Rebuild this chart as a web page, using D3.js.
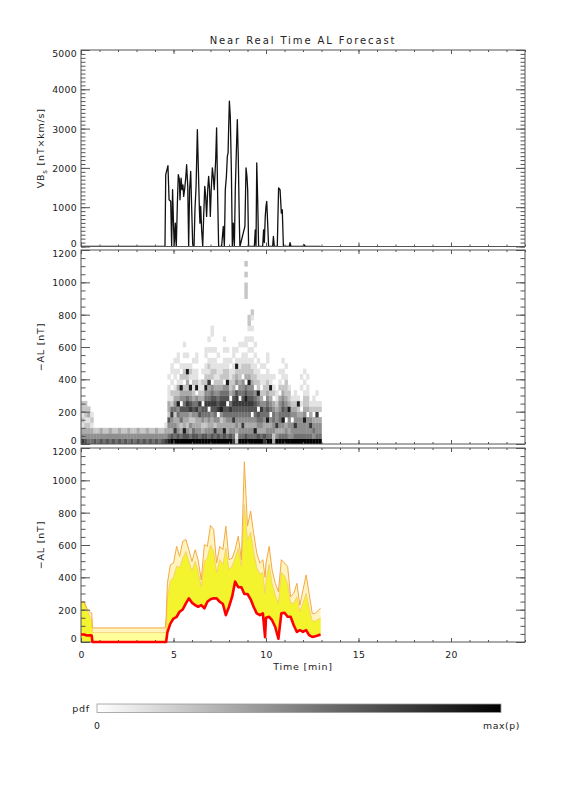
<!DOCTYPE html>
<html><head><meta charset="utf-8">
<script src="https://cdn.jsdelivr.net/npm/d3@7"></script>
<style>body{margin:0;background:#fff}</style>
</head><body><svg id="c" width="576" height="792" xmlns="http://www.w3.org/2000/svg"></svg>
<script>
// ---------------- DATA ----------------
const title = "Near Real Time AL Forecast";
const xTicks = [0, 5, 10, 15, 20];
const xMinor = [0,1,2,3,4,5,6,7,8,9,10,11,12,13,14,15,16,17,18,19,20,21,22,23,24];
const vbsTicks = [0, 1000, 2000, 3000, 4000, 5000];
const alTicks = [0, 200, 400, 600, 800, 1000, 1200];

// Panel 1: VBs [nT x km/s] vs time [min]
const vbsTime = [0,4.54,4.58,4.67,4.70,4.76,4.85,4.90,4.95,5.01,5.04,5.10,5.15,5.21,5.26,5.32,5.35,5.41,5.46,5.51,5.55,5.60,5.66,5.71,5.77,5.82,5.87,5.93,5.98,6.04,6.11,6.16,6.22,6.29,6.34,6.40,6.43,6.47,6.52,6.58,6.63,6.69,6.74,6.79,6.85,6.90,6.95,6.99,7.04,7.10,7.15,7.20,7.28,7.33,7.39,7.44,7.60,7.69,7.75,7.80,7.86,7.91,7.95,7.98,8.02,8.07,8.13,8.18,8.23,8.29,8.34,8.40,8.45,8.50,8.56,8.59,8.86,8.92,8.97,9.01,9.06,9.37,9.42,9.46,9.50,9.55,9.60,9.82,9.87,9.91,9.96,10.00,10.04,10.09,10.14,10.36,10.40,10.45,10.61,10.68,10.76,10.83,10.88,10.94,11.26,11.30,11.35,12.00,12.05,12.13,12.95];
const vbsVal  = [0,0,1830,2000,2060,1190,1150,0,1445,425,0,595,0,1105,1830,1700,1190,1740,1445,1570,1275,1445,1740,2080,1530,0,1445,1910,1020,0,0,935,1530,2975,2040,935,595,1020,425,0,765,1530,1275,765,1445,1785,1445,765,1445,2000,1785,1445,2200,3015,1190,0,0,510,0,1445,1785,2295,2380,2975,3700,3315,1870,0,595,0,1445,2465,3230,2295,595,0,510,2000,1785,1445,0,0,425,0,2125,1190,0,0,425,100,765,1020,1150,595,0,0,255,0,0,1490,1445,850,935,0,0,100,0,0,50,0,0];

// Panel 2: pdf of -AL (column start times [min], bin 33.3 nT, intensity 0..9 from bottom row up)
const hmBin = 33.3;
const hmEnd = 13.0;
const hmTime = [0,0.17,0.33,0.5,0.67,0.83,1,1.17,1.33,1.5,1.67,1.83,2,2.17,2.33,2.5,2.67,2.83,3,3.17,3.33,3.5,3.67,3.83,4,4.17,4.33,4.5,4.67,4.83,5,5.17,5.33,5.5,5.67,5.83,6,6.17,6.33,6.5,6.67,6.83,7,7.17,7.33,7.5,7.67,7.83,8,8.17,8.33,8.5,8.67,8.83,9,9.17,9.33,9.5,9.67,9.83,10,10.17,10.33,10.5,10.67,10.83,11,11.17,11.33,11.5,11.67,11.83,12,12.17,12.33,12.5,12.67,12.83];
const hmCols = [
 "74312122","64321222","5432132","543121",
 "642","542","643","542","642","543","642","542","643","542","642","543","642","542","643","542","642","543","642","542","643","542","642",
 "7431",
 "8534623311101","963447521201011","9574325432101101","96433548323101011","953254604381201",
 "9683346543202210101","96423467532328101","9534237643801210","9653246532121101","96433475408211011",
 "9543365732110","96324560321201","964235675482211011","95434507543721210101","9643346765402211010011",
 "957245676432121101","96434076543211101","9543248765322110","96833567654022110101","953345606548221101",
 "9643457503221101","754375676432211011","2134456776043281010","9543456705432211001","95474567654402211010",
 "9643456786503221101100000002220202","954345676548322101010122","9543406765432211010101012","9583456654022110101","9634560548221101",
 "953455743201101","763345540221101","95438565432211011","9543405432811","3244554302101",
 "9437443211","95345544302101","9534856543201101","954305543222101","943445832210",
 "944404321","9547443211","954443281","9544430100101","95448432210101",
 "9544403221101","95474321","9454302110","9544372101","95443021"
];

// Panel 3: -AL forecast quantiles [nT]
const alTime  = [0,0.17,0.33,0.5,0.58,0.62,4.55,4.6,4.67,4.83,5.0,5.17,5.33,5.5,5.67,5.83,6.0,6.17,6.33,6.5,6.67,6.83,7.0,7.17,7.33,7.5,7.67,7.83,8.0,8.17,8.33,8.5,8.67,8.83,9.0,9.17,9.33,9.5,9.67,9.83,9.95,10.0,10.17,10.33,10.5,10.67,10.83,11.0,11.17,11.33,11.5,11.67,11.83,12.0,12.17,12.33,12.5,12.67,12.83,12.95];
const alRed   = [46,46,40,42,40,0, 0,0,60,114, 145,156,187,201,239,270, 243,228,218,228,208,249, 264,270,270,249,235,166, 218,280,374,339,339,297, 297,264,218,177,166,177, 30,150,156,135,93,20, 177,181,156,156,104,62, 73,62,73,42,31,35, 42,46];
const alLo    = [0,0,0,0,0,0, 0,0,60,114, 145,156,187,201,239,270, 243,228,218,228,208,249, 264,270,270,249,235,166, 218,280,374,339,339,297, 297,264,218,177,166,177, 30,150,156,135,93,20, 177,181,156,156,104,62, 73,62,73,42,31,35, 42,46];
const alMid   = [250,245,200,150,140,0, 0,60,280,380, 400,470,460,520,560,500, 440,500,440,340,500,520, 600,560,430,510,480,580, 450,470,520,580,470,850, 630,680,560,460,420,430, 300,380,480,360,290,240, 430,410,360,240,240,280, 190,240,300,210,130,130, 140,150];
const alLight = [250,245,200,150,140,58, 58,60,280,380, 400,470,460,520,560,500, 440,500,440,340,500,520, 600,560,430,510,480,580, 450,470,520,580,470,850, 630,680,560,460,420,430, 300,380,480,360,290,240, 430,410,360,240,240,280, 190,240,300,210,130,130, 140,150];
const alHi    = [250,250,205,185,180,87, 87,150,363,478, 488,592,530,623,634,571, 498,571,509,384,602,592, 721,696,488,592,571,717, 509,519,571,654,509,1115, 717,810,675,550,488,509, 400,488,592,446,363,311, 509,488,467,280,301,363, 228,322,415,301,177,177, 197,208];

// ---------------- DRAW ----------------
const svg = d3.select("#c");
const FONT = "'DejaVu Sans', sans-serif";
const INK = "#222";
const AX = "#555";
const X0 = 81, X1 = 525;
const x = d3.scaleLinear().domain([0, 24]).range([X0, X1]);
const P = [{y0: 50, y1: 246.5}, {y0: 250, y1: 444}, {y0: 448, y1: 642}];
const yV = d3.scaleLinear().domain([0, 5000]).range([P[0].y1, P[0].y0]);
const yM = d3.scaleLinear().domain([0, 1200]).range([P[1].y1, P[1].y0]);
const yB = d3.scaleLinear().domain([0, 1200]).range([P[2].y1, P[2].y0]);

const defs = svg.append("defs");
P.forEach((p, i) => {
  defs.append("clipPath").attr("id", "clip" + i).append("rect")
    .attr("x", X0).attr("y", p.y0).attr("width", X1 - X0).attr("height", p.y1 - p.y0);
});

// title
svg.append("text").attr("x", (X0 + X1) / 2).attr("y", 44).attr("text-anchor", "middle")
  .attr("font-family", FONT).attr("font-size", 10).attr("letter-spacing", 1.9).attr("fill", INK).text(title);

// ---- panel 1 ----
const g1 = svg.append("g").attr("clip-path", "url(#clip0)");
g1.append("path").datum(vbsTime.map((t, i) => [t, vbsVal[i]]))
  .attr("d", d3.line().x(d => x(d[0])).y(d => yV(d[1])))
  .attr("fill", "none").attr("stroke", "#111").attr("stroke-width", 1.3).attr("stroke-linejoin", "round");

// ---- panel 2 ----
const gray = d3.scaleLinear().domain([0, 9]).range(["#ffffff", "#000000"]);
const g2 = svg.append("g").attr("clip-path", "url(#clip1)");
hmCols.forEach((col, i) => {
  const t0 = hmTime[i], t1 = i + 1 < hmTime.length ? hmTime[i + 1] : hmEnd;
  for (let r = 0; r < col.length; r++) {
    const v = +col[r];
    if (!v) continue;
    g2.append("rect")
      .attr("x", x(t0)).attr("width", x(t1) - x(t0) + 0.3)
      .attr("y", yM((r + 1) * hmBin)).attr("height", yM(r * hmBin) - yM((r + 1) * hmBin) + 0.3)
      .attr("fill", gray(v));
  }
});

// ---- panel 3 ----
const g3 = svg.append("g").attr("clip-path", "url(#clip2)");
const idx = alTime.map((t, i) => i);
const band = (top) => d3.area().x(i => x(alTime[i])).y0(i => yB(alLo[i])).y1(i => yB(top[i]));
g3.append("path").datum(idx).attr("d", band(alHi)).attr("fill", "#fff4bf");
g3.append("path").datum(idx).attr("d", band(alLight)).attr("fill", "#ffff9c");
g3.append("path").datum(idx).attr("d", band(alMid)).attr("fill", "#f3f32e");
const ln = (arr) => d3.line().x(i => x(alTime[i])).y(i => yB(arr[i]));
g3.append("path").datum(idx).attr("d", ln(alLight)).attr("fill", "none").attr("stroke", "#f7c874").attr("stroke-width", 0.8);
g3.append("path").datum(idx).attr("d", ln(alHi)).attr("fill", "none").attr("stroke", "#f3aa44").attr("stroke-width", 1);

// ---- axes / frames ----
function styleAxis(sel) {
  sel.select(".domain").remove();
  sel.selectAll("line").attr("stroke", AX).attr("stroke-width", 1);
  sel.selectAll("text").attr("font-family", FONT).attr("font-size", 9.3).attr("fill", INK).attr("letter-spacing", 0.3);
}
function frame(p, y, majors, step, showX) {
  const minors = d3.range(y.domain()[0], y.domain()[1] + 1e-6, step);
  const add = (axis, tx, ty) => svg.append("g").attr("transform", `translate(${tx},${ty})`).call(axis).call(styleAxis);
  add(d3.axisLeft(y).tickValues(minors).tickSize(-4.5).tickSizeOuter(0).tickFormat(""), X0, 0);
  const lab = add(d3.axisLeft(y).tickValues(majors).tickSize(-9).tickSizeOuter(0).tickPadding(4).tickFormat(d3.format("d")), X0, 0);
  const lo = d3.min(majors), hi = d3.max(majors);
  lab.selectAll(".tick text").attr("dy", d => d === lo ? "-0.05em" : d === hi ? "0.75em" : "0.38em");
  add(d3.axisRight(y).tickValues(minors).tickSize(-4.5).tickSizeOuter(0).tickFormat(""), X1, 0);
  add(d3.axisRight(y).tickValues(majors).tickSize(-9).tickSizeOuter(0).tickFormat(""), X1, 0);
  add(d3.axisTop(x).tickValues(xMinor).tickSize(-2).tickSizeOuter(0).tickFormat(""), 0, p.y0);
  add(d3.axisTop(x).tickValues(xTicks).tickSize(-4).tickSizeOuter(0).tickFormat(""), 0, p.y0);
  add(d3.axisBottom(x).tickValues(xMinor).tickSize(-2).tickSizeOuter(0).tickFormat(""), 0, p.y1);
  add(d3.axisBottom(x).tickValues(xTicks).tickSize(-4).tickSizeOuter(0).tickPadding(9)
      .tickFormat(showX ? d3.format("d") : ""), 0, p.y1);
  svg.append("rect").attr("x", X0).attr("y", p.y0).attr("width", X1 - X0).attr("height", p.y1 - p.y0)
    .attr("fill", "none").attr("stroke", AX).attr("stroke-width", 1);
}
frame(P[0], yV, vbsTicks, 100, false);
frame(P[1], yM, alTicks, 50, false);
frame(P[2], yB, alTicks, 50, true);

// red line drawn over the frame (it sits on the axis where -AL = 0)
svg.append("path").datum(idx).attr("d", ln(alRed)).attr("fill", "none").attr("stroke", "#ff0000")
  .attr("stroke-width", 2.6).attr("stroke-linejoin", "round");

// axis titles
function yTitle(p, build) {
  const t = svg.append("text").attr("transform", `translate(44,${(p.y0 + p.y1) / 2}) rotate(-90)`)
    .attr("text-anchor", "middle").attr("font-family", FONT).attr("font-size", 9.5)
    .attr("letter-spacing", 0.8).attr("fill", INK);
  build(t);
}
yTitle(P[0], t => {
  t.append("tspan").text("VB");
  t.append("tspan").attr("font-size", 7).attr("dy", 3).text("s");
  t.append("tspan").attr("dy", -3).text(" [nT×km/s]");
});
yTitle(P[1], t => t.text("−AL [nT]"));
yTitle(P[2], t => t.text("−AL [nT]"));
svg.append("text").attr("x", (X0 + X1) / 2).attr("y", 670).attr("text-anchor", "middle")
  .attr("font-family", FONT).attr("font-size", 9.5).attr("letter-spacing", 0.8).attr("fill", INK).text("Time [min]");

// ---- colour bar ----
const cb = d3.scaleLinear().domain([0, 9]).range([97, 501]);
const grad = defs.append("linearGradient").attr("id", "cbg").attr("x1", "0%").attr("x2", "100%");
d3.range(0, 10).forEach(v => grad.append("stop").attr("offset", (v / 9 * 100) + "%").attr("stop-color", gray(v)));
svg.append("rect").attr("x", cb(0)).attr("y", 704).attr("width", cb(9) - cb(0)).attr("height", 8.5)
  .attr("fill", "url(#cbg)").attr("stroke", "#999").attr("stroke-width", 0.8);
svg.append("text").attr("x", 90).attr("y", 711.5).attr("text-anchor", "end").attr("font-family", FONT)
  .attr("font-size", 9.5).attr("letter-spacing", 0.8).attr("fill", INK).text("pdf");
svg.append("text").attr("x", cb(0)).attr("y", 729).attr("text-anchor", "middle").attr("font-family", FONT)
  .attr("font-size", 9.3).attr("fill", INK).text("0");
svg.append("text").attr("x", 520).attr("y", 729).attr("text-anchor", "end").attr("font-family", FONT)
  .attr("font-size", 9.3).attr("letter-spacing", 0.6).attr("fill", INK).text("max(p)");
</script>
</body></html>
